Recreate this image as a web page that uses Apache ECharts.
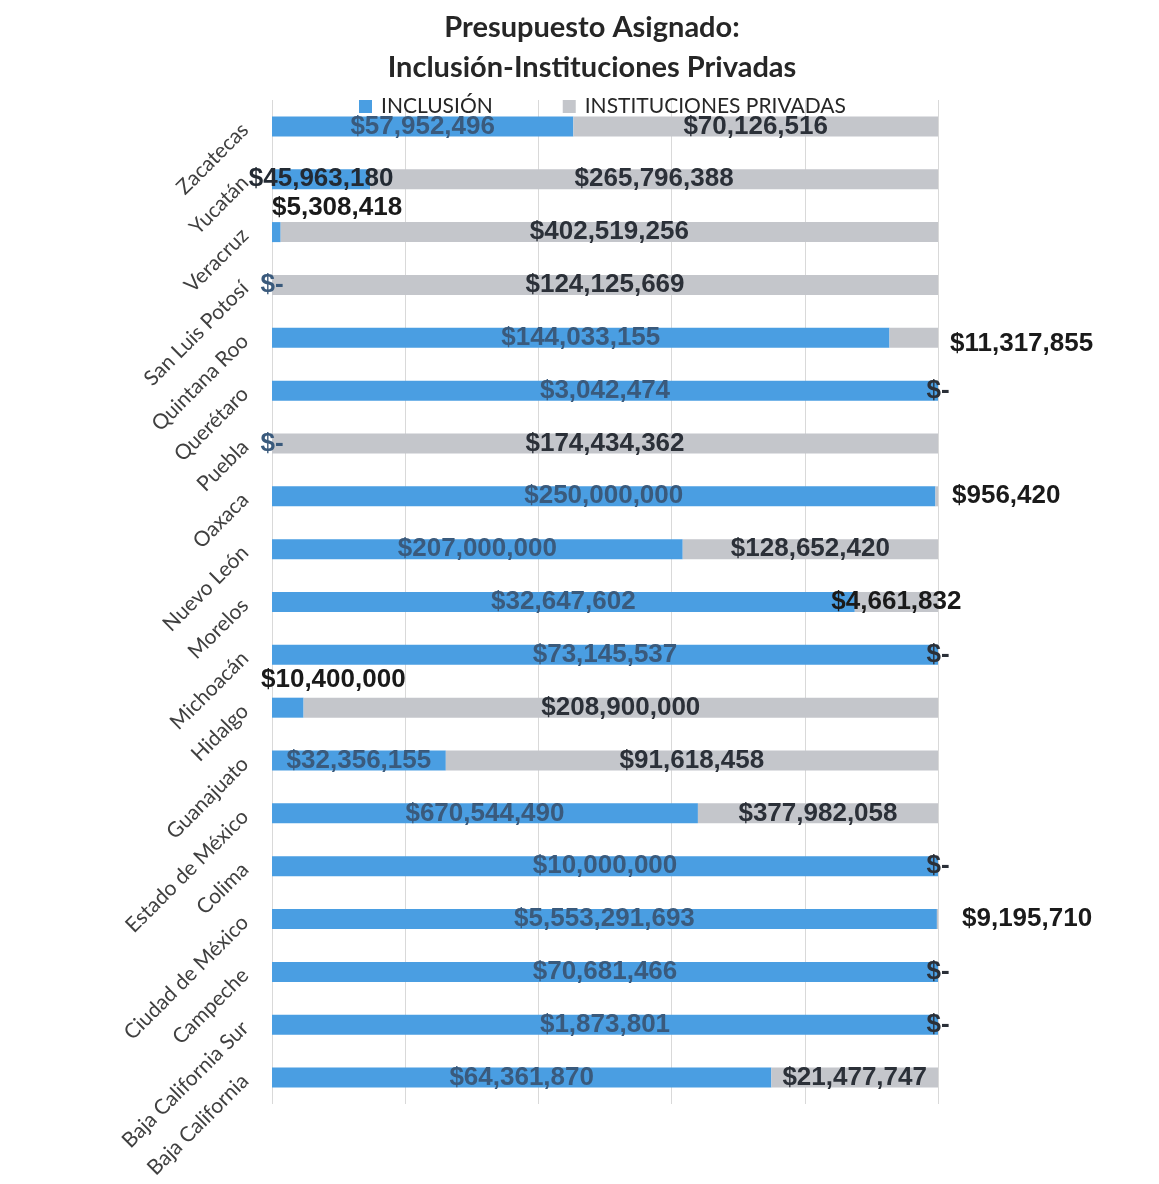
<!DOCTYPE html>
<html>
<head>
<meta charset="utf-8">
<script src="https://cdn.jsdelivr.net/npm/echarts@6/dist/echarts.min.js"></script>
<style>
  html, body { margin: 0; padding: 0; background: #fff; }
  #grafica { width: 1159px; height: 1184px; }
</style>
</head>
<body>
<div id="grafica"></div>
<script>
  // estados (de arriba hacia abajo)
  const estados = ['Zacatecas', 'Yucatán', 'Veracruz', 'San Luis Potosí', 'Quintana Roo', 'Querétaro',
    'Puebla', 'Oaxaca', 'Nuevo León', 'Morelos', 'Michoacán', 'Hidalgo', 'Guanajuato',
    'Estado de México', 'Colima', 'Ciudad de México', 'Campeche', 'Baja California Sur', 'Baja California'];
  // presupuesto inclusión
  const inclusion = [57952496, 45963180, 5308418, 0, 144033155, 3042474,
    0, 250000000, 207000000, 32647602, 73145537, 10400000, 32356155,
    670544490, 10000000, 5553291693, 70681466, 1873801, 64361870];
  // presupuesto instituciones privadas
  const privadas = [70126516, 265796388, 402519256, 124125669, 11317855, 0,
    174434362, 956420, 128652420, 4661832, 0, 208900000, 91618458,
    377982058, 0, 9195710, 0, 0, 21477747];

  // etiquetas que Excel puso fuera de la barra
  const ajusteInc = {
    'Yucatán': { color: '#232a33' },
    'Veracruz': { position: [0, -1], align: 'left', verticalAlign: 'bottom', color: '#1a1a1a' },
    'Hidalgo': { position: [-11, -5], align: 'left', verticalAlign: 'bottom', color: '#1a1a1a' }
  };
  const ajustePriv = {
    'Quintana Roo': { position: 'right', distance: 12, offset: [0, 6], color: '#1a1a1a' },
    'Oaxaca': { position: 'right', distance: 14, color: '#1a1a1a' },
    'Ciudad de México': { position: 'right', distance: 24, color: '#1a1a1a' },
    'Morelos': { color: '#1a1a1a' }
  };

  const moneda = (v) => v === 0 ? '$-' : '$' + v.toLocaleString('en-US');

  // convertir a porcentaje (barra 100% apilada)
  const armar = (valores, otros, ajustes) => valores.map((v, i) => {
    let item = { value: v / (v + otros[i]) * 100, real: v };
    if (ajustes[estados[i]]) item.label = ajustes[estados[i]];
    return item;
  });

  let myChart = echarts.init(document.getElementById('grafica'));
  let etiqueta = {
    show: true,
    position: 'inside',
    fontFamily: 'Liberation Sans, Arial',
    fontWeight: 'bold',
    fontSize: 26,
    formatter: (p) => moneda(p.data.real)
  };

  let option = {
    backgroundColor: '#fff',
    animation: false,
    title: {
      text: 'Presupuesto Asignado:\nInclusión-Instituciones Privadas',
      left: 587,
      textAlign: 'center',
      top: 3,
      textStyle: { fontFamily: 'Lato', fontWeight: 'bold', fontSize: 29, lineHeight: 40, color: '#262626' }
    },
    legend: {
      left: 354,
      top: 91,
      itemWidth: 13,
      itemHeight: 13,
      itemGap: 70,
      icon: 'rect',
      textStyle: { fontFamily: 'Lato', fontSize: 21, color: '#262626', padding: [0, 0, 0, 4] },
      data: ['INCLUSIÓN', 'INSTITUCIONES PRIVADAS']
    },
    grid: { left: 272, right: 221, top: 100, bottom: 80 },
    xAxis: {
      type: 'value',
      min: 0,
      max: 100,
      interval: 20,
      axisLabel: { show: false },
      axisLine: { show: false },
      axisTick: { show: false },
      splitLine: { lineStyle: { color: '#d9d9d9', width: 1 } }
    },
    yAxis: {
      type: 'category',
      data: estados,
      inverse: true,
      axisLine: { show: false },
      axisTick: { show: false },
      axisLabel: { rotate: 45, margin: 27, fontFamily: 'Lato', fontSize: 21, color: '#404040' }
    },
    series: [
      {
        name: 'INCLUSIÓN',
        type: 'bar',
        stack: 'total',
        barWidth: 20,
        itemStyle: { color: '#4a9ee2' },
        label: Object.assign({}, etiqueta, { color: '#3a5a7c' }),
        data: armar(inclusion, privadas, ajusteInc)
      },
      {
        name: 'INSTITUCIONES PRIVADAS',
        type: 'bar',
        stack: 'total',
        barWidth: 20,
        itemStyle: { color: '#c4c6cb' },
        label: Object.assign({}, etiqueta, { color: '#2b3038' }),
        data: armar(privadas, inclusion, ajustePriv)
      }
    ]
  };
  myChart.setOption(option);
</script>
</body>
</html>
